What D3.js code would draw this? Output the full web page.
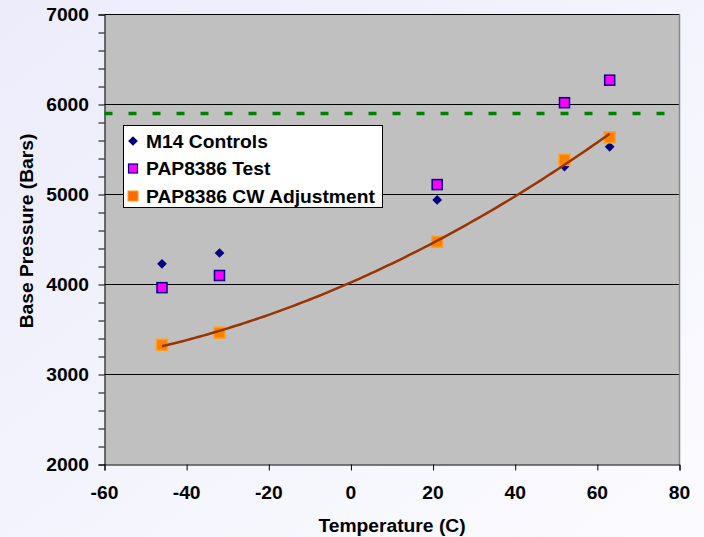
<!DOCTYPE html>
<html><head><meta charset="utf-8">
<script src="https://cdn.jsdelivr.net/npm/d3@7"></script>
<style>body{margin:0;padding:0;overflow:hidden}svg{display:block}</style>
</head><body>
<script>
const temps = [-46, -32, 21, 52, 63];
const m14Controls = [4230, 4350, 4940, 5310, 5530];
const papTest = [3965, 4100, 5110, 6020, 6270];
const papCW = [3330, 3465, 4475, 5385, 5635];
const limitValue = 5900;
const xTicks = [-60, -40, -20, 0, 20, 40, 60, 80];
const yTicks = [2000, 3000, 4000, 5000, 6000, 7000];
const seriesNames = ["M14 Controls", "PAP8386 Test", "PAP8386 CW Adjustment"];

const W = 704, H = 537;
const svg = d3.select("body").append("svg").attr("width", W).attr("height", H);
const defs = svg.append("defs");
const g = defs.append("linearGradient").attr("id","bg").attr("x1","0").attr("y1","0").attr("x2","1").attr("y2","1");
g.append("stop").attr("offset","0").attr("stop-color","#ececfb");
g.append("stop").attr("offset","1").attr("stop-color","#fbfbff");
svg.append("rect").attr("width",W).attr("height",H).attr("fill","url(#bg)");

const x = d3.scaleLinear().domain([-60, 80]).range([104.5, 679.5]);
const y = d3.scaleLinear().domain([2000, 7000]).range([464.5, 14.5]);

svg.append("rect").attr("x", x(-60)).attr("y", y(7000)).attr("width", x(80)-x(-60)).attr("height", y(2000)-y(7000)).attr("fill","#c0c0c0");

svg.append("g").selectAll("line").data(yTicks.filter(d=>d>2000)).join("line")
  .attr("x1", x(-60)).attr("x2", x(80)).attr("y1", d=>y(d)).attr("y2", d=>y(d))
  .attr("stroke","#000").attr("stroke-width",1);
svg.append("line").attr("x1", x(80)).attr("x2", x(80)).attr("y1", y(7000)).attr("y2", y(2000)).attr("stroke","#888").attr("stroke-width",1.5);

const font = "Arial, 'Liberation Sans', sans-serif";
const SX = 1.07;
function label(sel, px, py, txt, anchor, size, rot){
  sel.append("text").attr("transform", `translate(${px},${py})` + (rot?` rotate(${rot})`:"") + ` scale(${SX},1)`)
    .attr("text-anchor", anchor).attr("font-family", font).attr("font-weight","bold").attr("font-size", size).text(txt);
}

const yAxis = svg.append("g").attr("transform", `translate(${x(-60)},0)`)
  .call(d3.axisLeft(y).tickValues(d3.range(2000, 7001, 200)).tickSize(6).tickFormat(""));
yAxis.select(".domain").attr("stroke","#000");
yAxis.selectAll(".tick line").attr("stroke","#000");
const yl = svg.append("g");
yTicks.forEach(d => label(yl, 89, y(d)+6.5, d, "end", 18));

const xAxis = svg.append("g").attr("transform", `translate(0,${y(2000)})`)
  .call(d3.axisBottom(x).tickValues(xTicks).tickSize(6).tickFormat(""));
xAxis.select(".domain").attr("stroke","#000");
xAxis.selectAll(".tick line").attr("stroke","#000");
const xl = svg.append("g");
xTicks.forEach(d => label(xl, x(d), 499, d, "middle", 18));

label(svg, 392, 532, "Temperature (C)", "middle", 18);
label(svg, 33, 231, "Base Pressure (Bars)", "middle", 18, -90);

svg.append("line").attr("x1", x(-60)).attr("x2", x(80)).attr("y1", y(limitValue)).attr("y2", y(limitValue))
  .attr("stroke","#008000").attr("stroke-width",3.5).attr("stroke-dasharray","8,16");

const diamond = d3.symbol().type(d3.symbolDiamond2).size(60);
svg.append("g").selectAll("path").data(temps).join("path")
  .attr("transform",(d,i)=>`translate(${x(d)},${y(m14Controls[i])})`)
  .attr("d", diamond).attr("fill","#000080");
svg.append("g").selectAll("rect").data(temps).join("rect")
  .attr("x",(d)=>x(d)-5).attr("y",(d,i)=>y(papTest[i])-5).attr("width",10).attr("height",10)
  .attr("fill","#ff00ff").attr("stroke","#000080").attr("stroke-width",1.5);
svg.append("g").selectAll("rect").data(temps).join("rect")
  .attr("x",(d)=>x(d)-5.5).attr("y",(d,i)=>y(papCW[i])-5.5).attr("width",11).attr("height",11)
  .attr("fill","#ff8000").attr("stroke","#ffa020").attr("stroke-width",1.5);

function quadFit(xs, ys){
  const n = xs.length; let S=[0,0,0,0,0], T=[0,0,0];
  for(let i=0;i<n;i++){ let p=1; for(let k=0;k<5;k++){S[k]+=p; if(k<3)T[k]+=p*ys[i]; p*=xs[i];} }
  const A=[[S[0],S[1],S[2],T[0]],[S[1],S[2],S[3],T[1]],[S[2],S[3],S[4],T[2]]];
  for(let c=0;c<3;c++){ for(let r=c+1;r<3;r++){ const f=A[r][c]/A[c][c]; for(let k=c;k<4;k++) A[r][k]-=f*A[c][k]; } }
  const b=[0,0,0];
  for(let r=2;r>=0;r--){ let s=A[r][3]; for(let k=r+1;k<3;k++) s-=A[r][k]*b[k]; b[r]=s/A[r][r]; }
  return t=>b[0]+b[1]*t+b[2]*t*t;
}
const f = quadFit(temps, papCW);
const tr = d3.range(temps[0], temps[temps.length-1]+0.01, 1);
svg.append("path").datum(tr).attr("fill","none").attr("stroke","#993300").attr("stroke-width",2.5)
  .attr("d", d3.line().x(d=>x(d)).y(d=>y(f(d))));

const lg = svg.append("g");
lg.append("rect").attr("x",123.5).attr("y",125.5).attr("width",259).attr("height",82).attr("fill","#fff").attr("stroke","#000").attr("stroke-width",1);
const rows = [141, 168.5, 196];
lg.append("path").attr("transform",`translate(133,${rows[0]})`).attr("d", diamond).attr("fill","#000080");
lg.append("rect").attr("x",128.5).attr("y",rows[1]-4.5).attr("width",9).attr("height",9).attr("fill","#ff00ff").attr("stroke","#000080").attr("stroke-width",1.2);
lg.append("rect").attr("x",128).attr("y",rows[2]-5).attr("width",10).attr("height",10).attr("fill","#ff6a00").attr("stroke","#ffa020").attr("stroke-width",1);
seriesNames.forEach((d,i) => label(lg, 146, rows[i]+6.5, d, "start", 18));
</script>
</body></html>
